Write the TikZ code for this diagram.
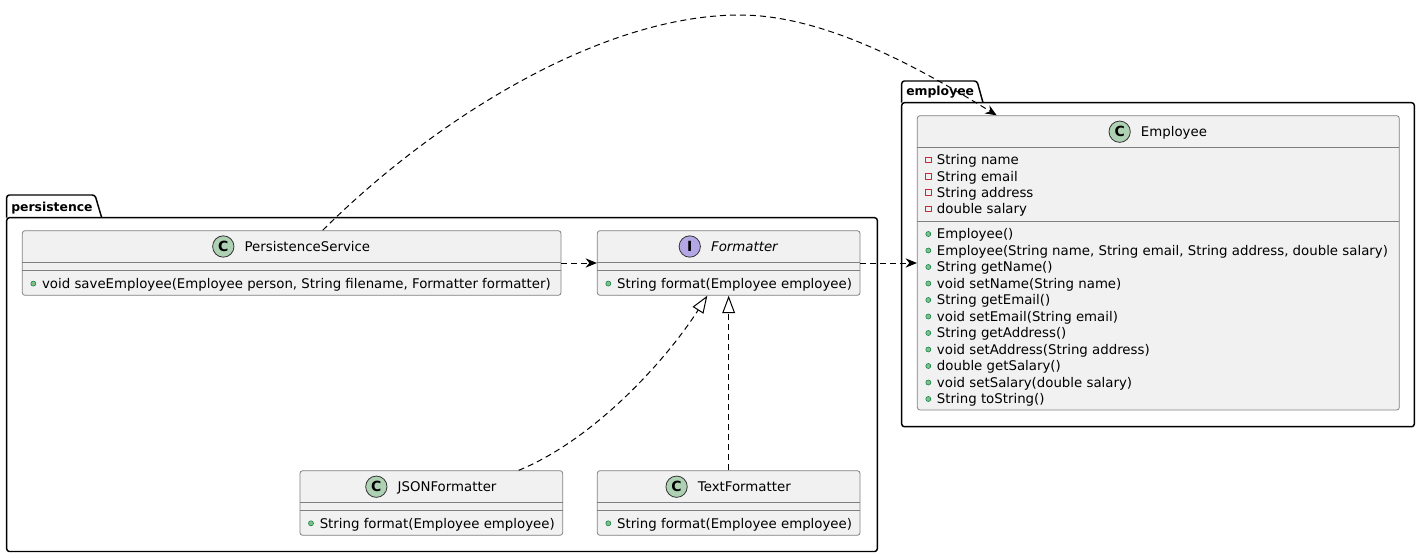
\documentclass[tikz,border=0pt]{standalone}
\usepackage{fontspec}
\setmainfont{DejaVu Sans}
\usetikzlibrary{arrows.meta, positioning, fit}
\definecolor{classbg}{HTML}{F1F1F1}
\definecolor{classline}{HTML}{808080}
\definecolor{ciconbg}{HTML}{ADD1B2}
\definecolor{iiconbg}{HTML}{B4A7E5}
\definecolor{pubfill}{HTML}{84BE84}
\definecolor{publine}{HTML}{038048}
\definecolor{privline}{HTML}{C82930}

\begin{document}
\begin{tikzpicture}[x=0.75pt, y=-0.75pt, font=\fontsize{10}{12}\selectfont, line join=round,
    pkg/.style={draw=black, line width=1.1pt, rounded corners=2pt, inner sep=0pt},
    pkgname/.style={anchor=base west, inner sep=0pt, font=\fontsize{9.3}{11}\selectfont\bfseries},
    cls/.style={draw=classline, fill=classbg, line width=0.6pt, rounded corners=2pt, inner sep=0pt},
    divider/.style={draw=classline, line width=0.6pt},
    badge/.style={circle, draw=black!80, line width=0.6pt, minimum size=16pt, inner sep=0pt,
      font=\fontsize{10.5}{10.5}\selectfont\bfseries},
    cname/.style={inner sep=0pt, text height=7.3pt, text depth=0pt},
    member/.style={anchor=west, inner sep=0pt, text height=7.3pt, text depth=0pt},
    pub/.style={circle, draw=publine, fill=pubfill, line width=0.4pt, minimum size=3.8pt, inner sep=0pt},
    priv/.style={rectangle, draw=privline, line width=0.5pt, minimum size=4.2pt, inner sep=0pt},
    dep/.style={line width=0.75pt, dash pattern=on 4.5pt off 3pt,
      -{Stealth[length=8.5pt, width=7pt, inset=2.8pt]}},
    impl/.style={line width=0.75pt, dash pattern=on 4.5pt off 3pt,
      -{Triangle[open, length=13pt, width=9.5pt, fill=white]}}]
  \useasboundingbox (0,0) rectangle (1421,557);

  % packages: tab + body
  \draw[pkg] (6.7,217.7) -- (6.7,195) -- (95,195) -- (101.7,217.7);
  \node[pkg, fit={(6.7,217.7)(877.3,551.5)}] (persistence) {};
  \node[pkgname] (persistenceName) at (11,211) {persistence};
  \draw[pkg] (901.7,102.7) -- (901.7,81) -- (977,81) -- (983,102.7);
  \node[pkg, fit={(901.7,102.7)(1414.3,426.7)}] (employeePkg) {};
  \node[pkgname] (employeeName) at (906,95) {employee};

  % PersistenceService
  \node[cls, fit={(22.3,230.7)(561,295.3)}] (ps) {};
  \draw[divider] (22.3,262.3) -- (561,262.3) (22.3,270.3) -- (561,270.3);
  \node[cname] (psName) at (307.4,246.5) {PersistenceService};
  \node[badge, fill=ciconbg, left=7.5pt of psName] (psBadge) {C};
  \node[pub] (psDot) at (33.3,283.6) {};
  \node[member] (psOp) at (41.8,283.6) {void saveEmployee(Employee person, String filename, Formatter formatter)};

  % Formatter interface
  \node[cls, fit={(597.3,230.7)(860,295.3)}] (fmt) {};
  \draw[divider] (597.3,262.3) -- (860,262.3) (597.3,270.3) -- (860,270.3);
  \node[cname, font=\fontsize{10}{12}\selectfont\itshape] (fmtName) at (744.4,246.5) {Formatter};
  \node[badge, fill=iiconbg, left=7.5pt of fmtName] (fmtBadge) {I};
  \node[pub] (fmtDot) at (608.3,283.6) {};
  \node[member] (fmtOp) at (616.8,283.6) {String format(Employee employee)};

  % the two formatters
  \foreach \n/\l/\r/\t in {json/300/562.7/JSONFormatter, txt/597.3/860/TextFormatter} {
    \node[cls, fit={(\l,470.7)(\r,535.3)}] (\n) {};
    \draw[divider] (\l,502.7) -- (\r,502.7) (\l,510) -- (\r,510);
    \node[cname] (\n-name) at ({(\l+\r)/2+15.7},486.7) {\t};
    \node[badge, fill=ciconbg, left=7.5pt of \n-name] (\n-badge) {C};
    \node[pub] (\n-dot) at ({\l+11},523.3) {};
    \node[member] (\n-op) at ({\l+19.5},523.3) {String format(Employee employee)};
  }

  % Employee
  \node[cls, fit={(917.3,115.7)(1399.3,410)}] (emp) {};
  \draw[divider] (917.3,147.7) -- (1399.3,147.7) (917.3,221.7) -- (1399.3,221.7);
  \node[cname] (empName) at (1174,131.7) {Employee};
  \node[badge, fill=ciconbg, left=7.5pt of empName] (empBadge) {C};
  \foreach \t [count=\i from 0] in {String name, String email, String address, double salary} {
    \node[priv] (empAttrBox\i) at (928.3,160+16.3*\i) {};
    \node[member] (empAttr\i) at (936.7,160+16.3*\i) {\t};
  }
  \foreach \t [count=\i from 0] in {Employee(),
      {Employee(String name, String email, String address, double salary)},
      String getName(), void setName(String name), String getEmail(),
      void setEmail(String email), String getAddress(), void setAddress(String address),
      double getSalary(), void setSalary(double salary), String toString()} {
    \node[pub] (empDot\i) at (928.3,234+16.5*\i) {};
    \node[member] (empOp\i) at (936.7,234+16.5*\i) {\t};
  }

  % relations
  \draw[dep] (ps) -- (fmt);
  \draw[dep] (fmt.east) -- (fmt.east -| emp.west);
  \draw[dep] ([xshift=23.3pt]ps.north) .. controls (432.7,120.7) and (600,15) .. (740,15)
    .. controls (825,15) and (919.7,68.1) .. ([xshift=-121.2pt]emp.north);
  \draw[impl] ([xshift=-33.3pt]json.north east) .. controls (592.3,440.3) and (664.4,362.8)
    .. ([xshift=-16pt]fmt.south);
  \draw[impl] (txt) -- (fmt);
\end{tikzpicture}
\end{document}
